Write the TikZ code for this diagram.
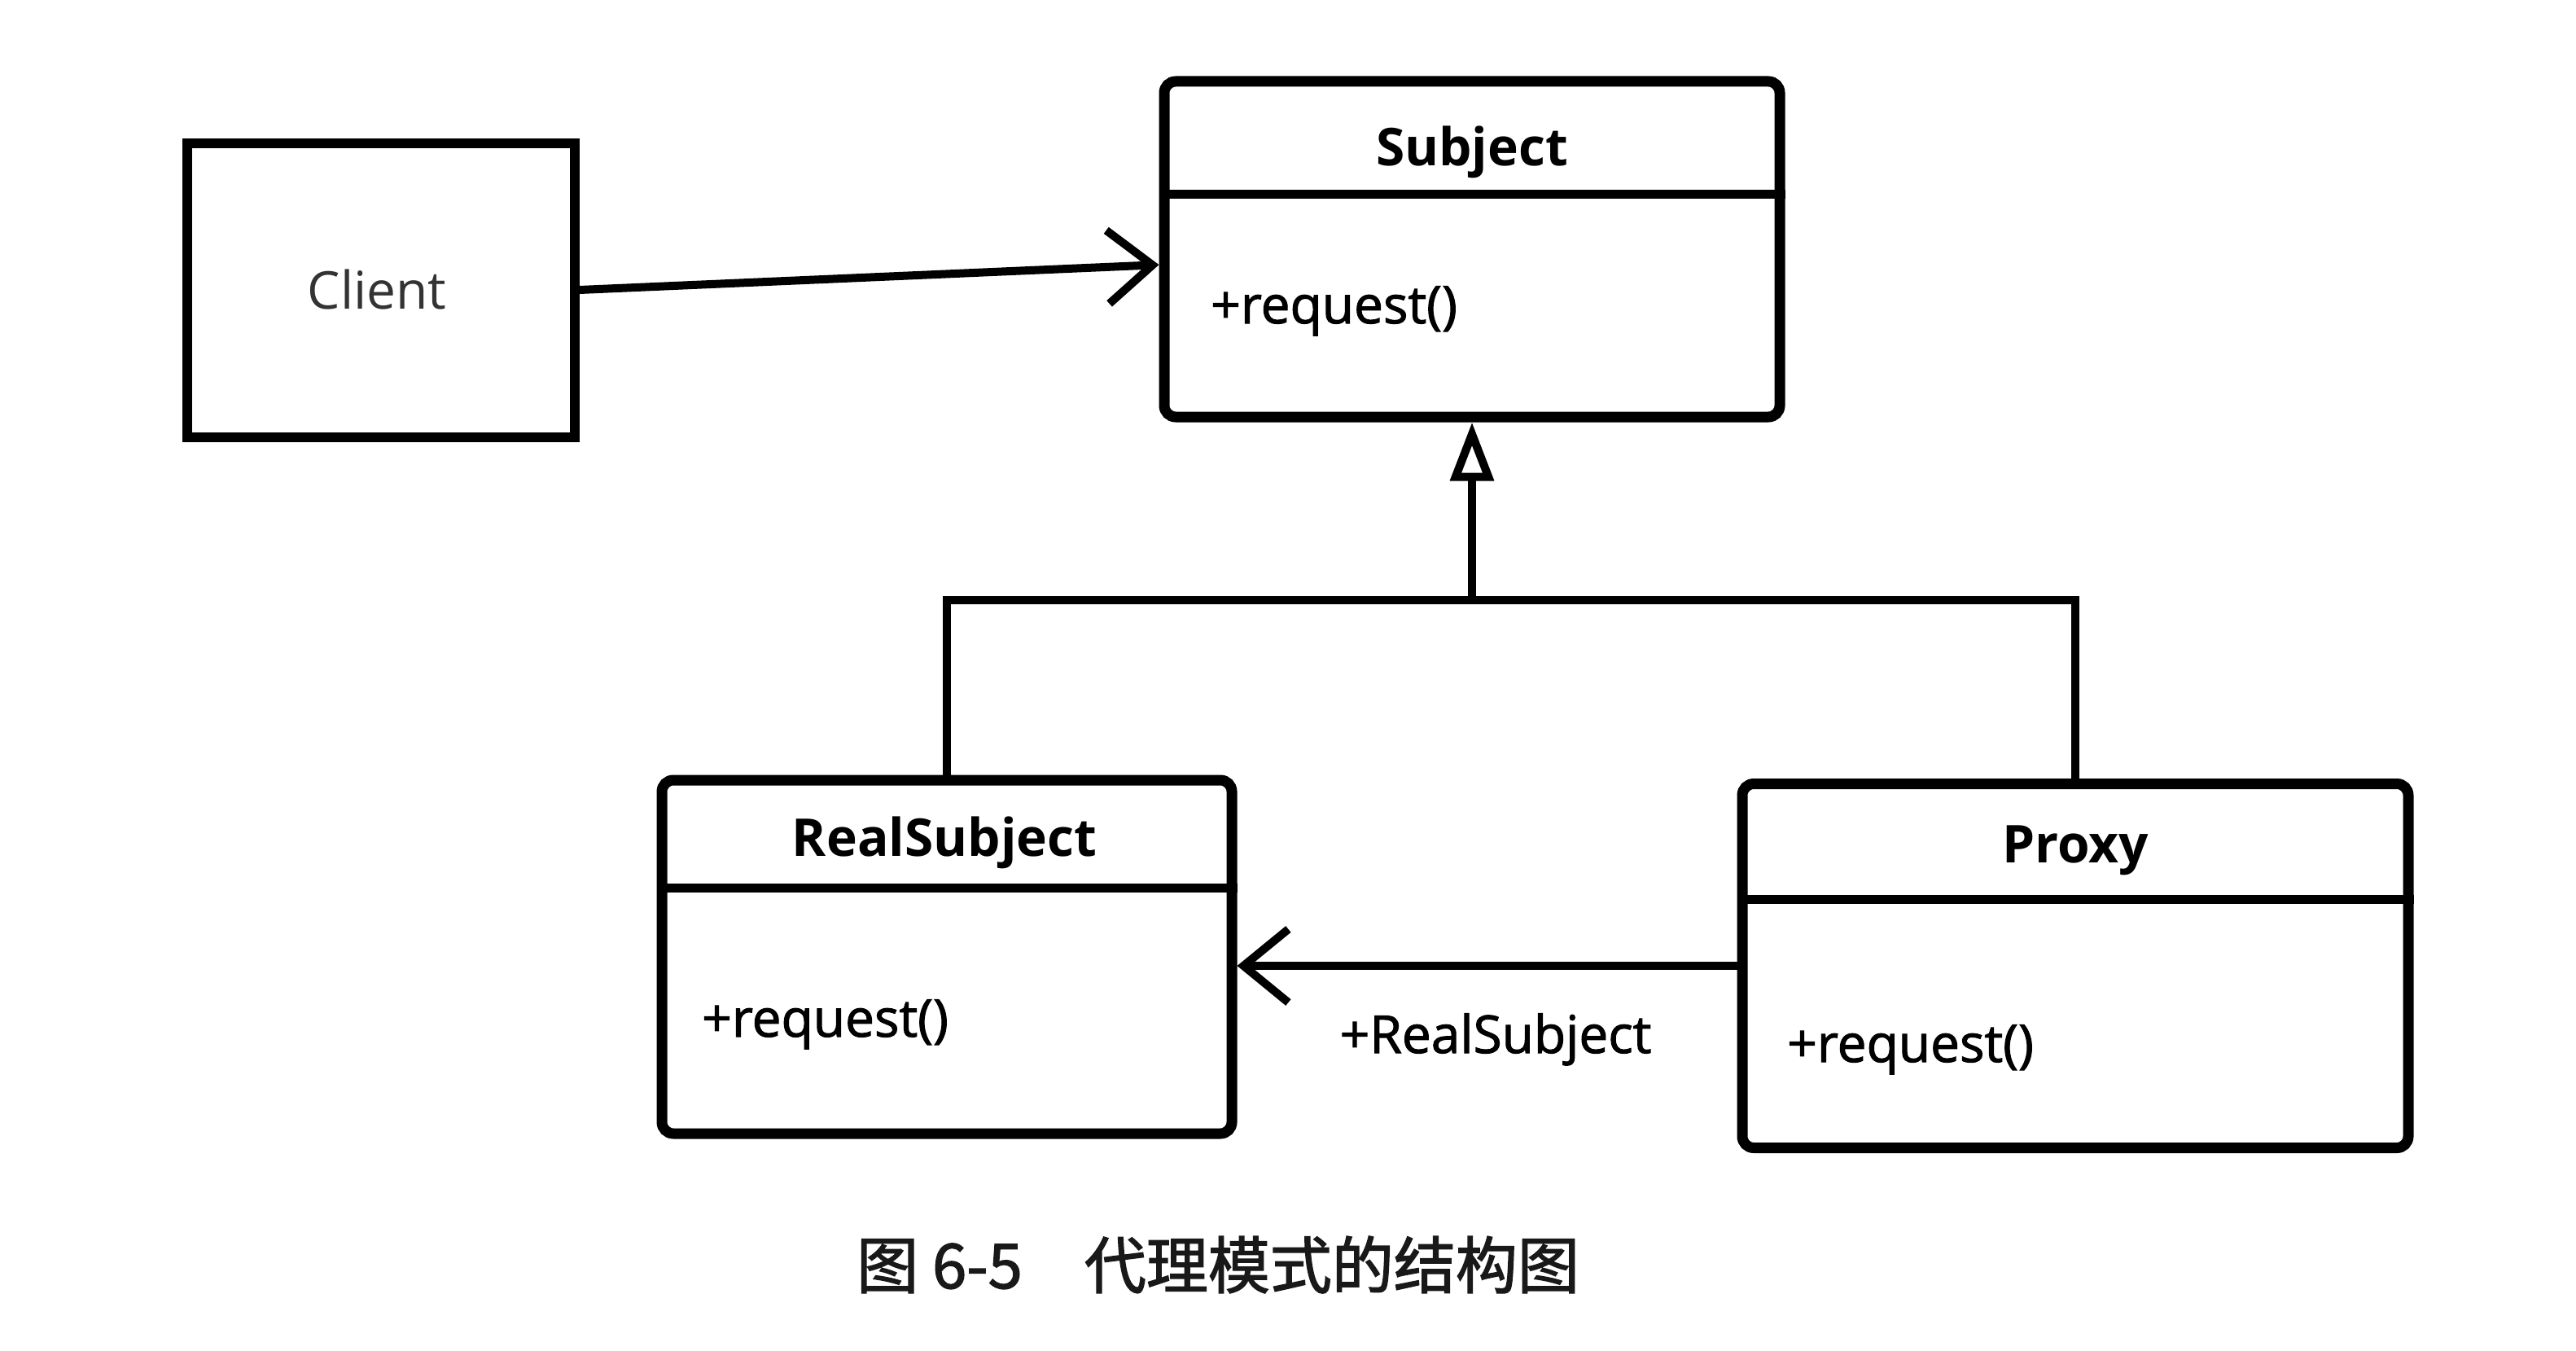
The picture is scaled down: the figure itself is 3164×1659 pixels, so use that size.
\documentclass[tikz,border=0pt]{standalone}
\usepackage{fontspec}
\setmainfont{Open Sans}
\newfontfamily\heavysans[FakeBold=1.6]{Open Sans}
\newfontfamily\cjk[FakeBold=1.8]{Noto Sans CJK SC}
\usetikzlibrary{arrows.meta,calc}
\tikzset{
  umlclass/.style={draw=black, line width=13pt, rounded corners=14pt, fill=white, inner sep=0pt},
  plainbox/.style={draw=black, line width=12pt, fill=white, inner sep=0pt},
  divider/.style={draw=black, line width=11pt},
  conn/.style={draw=black, line width=10pt},
  umltext/.style={inner sep=0pt, font=\heavysans\fontsize{64}{76}\selectfont},
  clienttext/.style={inner sep=0pt, font=\fontsize{64}{76}\selectfont},
  umltitle/.style={inner sep=0pt, font=\fontsize{64}{76}\selectfont\bfseries},
  barb/.style={-{Straight Barb[length=55pt,width=90pt]}},
  genarrow/.style={-{Triangle[open,length=72pt,width=52pt]}},
}
\begin{document}
\begin{tikzpicture}[x=1pt,y=-1pt]
\useasboundingbox (0,0) rectangle (3164,1659);

% Client
\node[plainbox, minimum width=476pt, minimum height=361pt] (client) at (468,356) {};
\node[clienttext, text=black!80] (clientlbl) at (463,355) {Client};

% Subject
\node[umlclass, minimum width=756pt, minimum height=412pt] (subj) at (1808,306) {};
\draw[divider] ([yshift=-145pt]subj.north west) -- ([yshift=-145pt]subj.north east);
\node[umltitle, anchor=base] (subjtitle) at (1808,203) {Subject};
\node[umltext, anchor=base west] (subjop) at (1487,397) {+request()};

% RealSubject
\node[umlclass, minimum width=700pt, minimum height=434pt] (real) at (1163,1175) {};
\draw[divider] ([yshift=-139pt]real.north west) -- ([yshift=-139pt]real.north east);
\node[umltitle, anchor=base] (realtitle) at (1160,1051) {RealSubject};
\node[umltext, anchor=base west] (realop) at (862,1273) {+request()};

% Proxy
\node[umlclass, minimum width=818pt, minimum height=447pt] (proxy) at (2549,1186) {};
\draw[divider] ([yshift=-148pt]proxy.north west) -- ([yshift=-148pt]proxy.north east);
\node[umltitle, anchor=base] (proxytitle) at (2549,1059) {Proxy};
\node[umltext, anchor=base west] (proxyop) at (2195,1304) {+request()};

% Client -> Subject
\draw[conn, barb] (client.east) -- ($(subj.north west)!0.545!(subj.south west)$);

% Generalization
\coordinate (joint) at (1808,737);
\draw[conn, line cap=rect] (real.north) -- (real.north |- joint) -- (proxy.north |- joint) -- (proxy.north);
\draw[conn, genarrow] (joint) -- (subj.south);

% Proxy -> RealSubject
\draw[conn, barb] (proxy.west) -- (proxy.west -| real.east);
\node[umltext, anchor=base] (assoclbl) at (1837,1293) {+RealSubject};

% Caption
\node[inner sep=0pt, font=\cjk\fontsize{76}{90}\selectfont, text=black!90] (caption) at (1496,1553) {图 6-5　代理模式的结构图};
\end{tikzpicture}
\end{document}
